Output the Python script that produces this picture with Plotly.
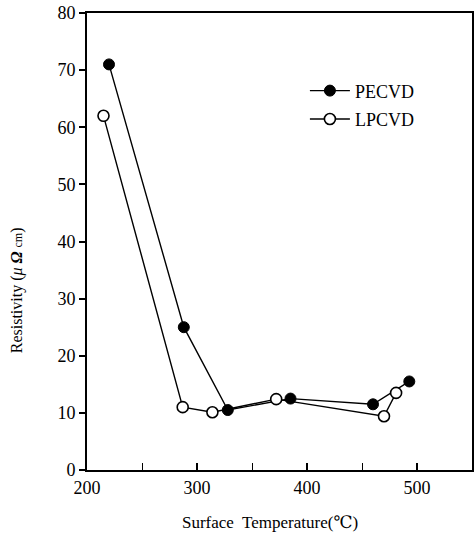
import plotly.graph_objects as go

pecvd_x = [220, 288, 328, 385, 460, 493]
pecvd_y = [71, 25, 10.5, 12.5, 11.5, 15.5]
lpcvd_x = [215, 287, 314, 372, 470, 481]
lpcvd_y = [62, 11, 10.1, 12.4, 9.4, 13.5]

x_ticks = [200, 300, 400, 500]
y_ticks = [0, 10, 20, 30, 40, 50, 60, 70, 80]

FONT = "Liberation Serif, DejaVu Serif, Times New Roman, serif"

fig = go.Figure()
fig.add_trace(go.Scatter(
    x=pecvd_x, y=pecvd_y, mode="lines+markers", name="PECVD", legendgroup="a",
    line=dict(color="black", width=1.4),
    marker=dict(symbol="circle", size=11, color="black", line=dict(color="black", width=1)),
))
fig.add_trace(go.Scatter(
    x=lpcvd_x, y=lpcvd_y, mode="lines+markers", name="LPCVD", legendgroup="b",
    line=dict(color="black", width=1.4),
    marker=dict(symbol="circle", size=11, color="white", line=dict(color="black", width=1.6)),
))

fig.update_layout(
    width=475, height=536,
    margin=dict(l=87, r=1, t=13, b=66),
    paper_bgcolor="white", plot_bgcolor="white",
    font=dict(family=FONT, color="black", size=16),
    showlegend=True,
    legend=dict(x=0.566, y=0.87, xanchor="left", yanchor="top",
                bgcolor="rgba(0,0,0,0)", font=dict(size=18, family=FONT),
                tracegroupgap=2, itemwidth=40),
    annotations=[
        dict(text="Surface  Temperature(℃)", xref="paper", yref="paper",
             x=0.475, y=-0.114, xanchor="center", yanchor="middle",
             showarrow=False, font=dict(size=17, family=FONT)),
        dict(text="Resistivity (<i>μ</i> <b><i>Ω</i></b> <span style='font-size:12px'>cm</span>)",
             xref="paper", yref="paper", x=-0.181, y=0.394, textangle=-90,
             xanchor="center", yanchor="middle",
             showarrow=False, font=dict(size=16, family=FONT)),
    ],
)
fig.update_xaxes(
    range=[200, 550], tickvals=x_ticks, ticktext=[str(v) for v in x_ticks],
    ticks="inside", ticklen=7, tickwidth=1.5, tickcolor="black",
    minor=dict(dtick=50, tick0=200, ticks="inside", ticklen=7, tickwidth=1.2, tickcolor="black", showgrid=False),
    showline=True, linecolor="black", linewidth=2, mirror=True,
    showgrid=False, zeroline=False, ticklabeloverflow="allow",
    tickfont=dict(size=18, family=FONT),
)
fig.update_yaxes(
    range=[0, 80], tickvals=y_ticks,
    ticks="outside", ticklen=6, tickwidth=1.5, tickcolor="black",
    showline=True, linecolor="black", linewidth=2, mirror=True,
    showgrid=False, zeroline=False, ticklabeloverflow="allow",
    tickfont=dict(size=18, family=FONT),
)

fig.write_html("out.html", config={"displayModeBar": False},
               post_script="document.body.style.margin='0';document.body.style.overflow='hidden';")
